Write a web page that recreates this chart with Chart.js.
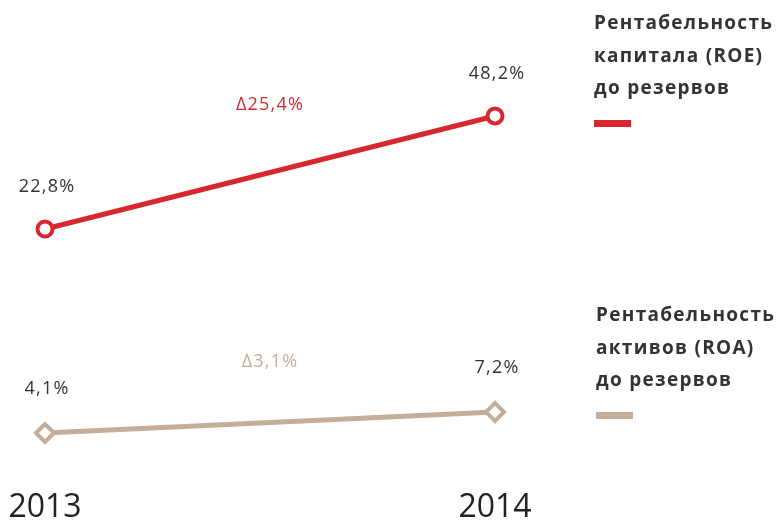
<!DOCTYPE html>
<html>
<head>
<meta charset="utf-8">
<script src="https://cdn.jsdelivr.net/npm/chart.js@4"></script>
<style>
  body { margin: 0; background: #fff; font-family: "Open Sans", sans-serif; }
  .wrap { position: relative; width: 780px; height: 521px; }
  .legend { position: absolute; font-weight: 700; font-size: 19px; line-height: 32.5px; color: #333; letter-spacing: 1.3px; white-space: nowrap; }
  .legend .sw { width: 37px; height: 7px; margin-top: 16px; }
</style>
</head>
<body>
<div class="wrap">
  <canvas id="chart" width="780" height="521"></canvas>
  <div class="legend" style="left:594px; top:6px;">
    Рентабельность<br>капитала (ROE)<br>до резервов
    <div class="sw" style="background:#d7282f"></div>
  </div>
  <div class="legend" style="left:596px; top:298px;">
    Рентабельность<br>активов (ROA)<br>до резервов
    <div class="sw" style="background:#c4ae99"></div>
  </div>
</div>
<script>
// Данные
const years = ['2013', '2014'];
const roe = [22.8, 48.2];
const roa = [4.1, 7.2];

const red = '#d7282f';
const tan = '#c4ae99';

function fmt(v) {
  return v.toFixed(1).replace('.', ',') + '%';
}

// Подписи значений и прироста
const labelsPlugin = {
  id: 'valueLabels',
  afterDatasetsDraw(chart) {
    const ctx = chart.ctx;
    ctx.save();
    ctx.textAlign = 'center';
    ctx.textBaseline = 'middle';
    ctx.letterSpacing = '1.2px';
    chart.data.datasets.forEach((ds, i) => {
      const pts = chart.getDatasetMeta(i).data;
      ctx.font = '18px "Open Sans"';
      ctx.fillStyle = '#333';
      pts.forEach((p, j) => {
        ctx.fillText(fmt(ds.data[j]), p.x + 2, p.y - ds.labelOffset);
      });
      const delta = ds.data[1] - ds.data[0];
      ctx.fillStyle = ds.borderColor;
      ctx.fillText('Δ' + fmt(delta), (pts[0].x + pts[1].x) / 2, (pts[0].y + pts[1].y) / 2 - ds.deltaOffset);
    });
    ctx.restore();
  }
};

new Chart(document.getElementById('chart').getContext('2d'), {
  type: 'line',
  data: {
    labels: years,
    datasets: [{
      label: 'Рентабельность капитала (ROE) до резервов',
      data: roe,
      yAxisID: 'y',
      borderColor: red,
      borderWidth: 5,
      pointStyle: 'circle',
      pointRadius: 7.5,
      pointBorderWidth: 4,
      pointBackgroundColor: '#fff',
      pointBorderColor: red,
      labelOffset: 42,
      deltaOffset: 68
    }, {
      label: 'Рентабельность активов (ROA) до резервов',
      data: roa,
      yAxisID: 'y2',
      borderColor: tan,
      borderWidth: 5,
      pointStyle: 'rectRot',
      pointRadius: 9,
      pointBorderWidth: 4,
      pointBackgroundColor: '#fff',
      pointBorderColor: tan,
      labelOffset: 44,
      deltaOffset: 61
    }]
  },
  options: {
    responsive: false,
    animation: false,
    layout: { autoPadding: false, padding: { left: 45, right: 285, top: 0, bottom: 0 } },
    plugins: {
      legend: { display: false },
      tooltip: { enabled: false }
    },
    scales: {
      x: {
        offset: false,
        grid: { display: false, drawTicks: true, tickLength: 28 },
        border: { display: false },
        ticks: { color: '#222', font: { family: 'Open Sans', size: 32 }, padding: 0, maxRotation: 0 },
        afterFit(s) { s.height = 60; }
      },
      y: { display: false, min: -29.35, max: 74.27 },
      y2: { display: false, min: -0.03, max: 68.02 }
    }
  },
  plugins: [labelsPlugin]
});
</script>
</body>
</html>
